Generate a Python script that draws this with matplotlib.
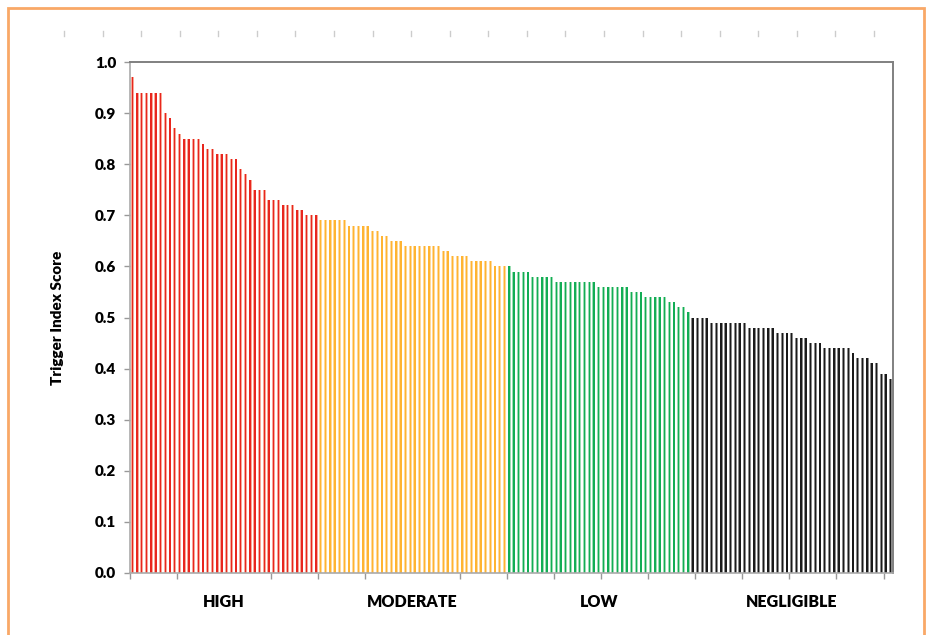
import numpy as np
import matplotlib
matplotlib.use('Agg')
import matplotlib.pyplot as plt
import matplotlib.patches as patches
from matplotlib.lines import Line2D

plt.rcParams['font.family'] = ['Lato', 'DejaVu Sans']

# Scores, already sorted high to low, one list per risk class
high_scores = [0.97, 0.94, 0.94, 0.94, 0.94, 0.94, 0.94, 0.90, 0.89, 0.87,
               0.86, 0.85, 0.85, 0.85, 0.85, 0.84, 0.83, 0.83, 0.82, 0.82,
               0.82, 0.81, 0.81, 0.79, 0.78, 0.77, 0.75, 0.75, 0.75, 0.73,
               0.73, 0.73, 0.72, 0.72, 0.72, 0.71, 0.71, 0.70, 0.70, 0.70]
moderate_scores = [0.69, 0.69, 0.69, 0.69, 0.69, 0.69, 0.68, 0.68, 0.68, 0.68,
                   0.68, 0.67, 0.67, 0.66, 0.66, 0.65, 0.65, 0.65, 0.64, 0.64,
                   0.64, 0.64, 0.64, 0.64, 0.64, 0.64, 0.63, 0.63, 0.62, 0.62,
                   0.62, 0.62, 0.61, 0.61, 0.61, 0.61, 0.61, 0.60, 0.60, 0.60]
low_scores = [0.60, 0.59, 0.59, 0.59, 0.59, 0.58, 0.58, 0.58, 0.58, 0.58,
              0.57, 0.57, 0.57, 0.57, 0.57, 0.57, 0.57, 0.57, 0.57, 0.56,
              0.56, 0.56, 0.56, 0.56, 0.56, 0.56, 0.55, 0.55, 0.55, 0.54,
              0.54, 0.54, 0.54, 0.54, 0.53, 0.53, 0.52, 0.52, 0.51]
negligible_scores = [0.50, 0.50, 0.50, 0.50, 0.49, 0.49, 0.49, 0.49, 0.49, 0.49,
                     0.49, 0.49, 0.48, 0.48, 0.48, 0.48, 0.48, 0.48, 0.47, 0.47,
                     0.47, 0.47, 0.46, 0.46, 0.46, 0.45, 0.45, 0.45, 0.44, 0.44,
                     0.44, 0.44, 0.44, 0.44, 0.43, 0.42, 0.42, 0.42, 0.41, 0.41,
                     0.39, 0.39, 0.38]

groups = ['HIGH', 'MODERATE', 'LOW', 'NEGLIGIBLE']
group_scores = [high_scores, moderate_scores, low_scores, negligible_scores]
# (light edge, dark core) per group
group_colors = [('#F7A898', '#E8261E'),
                ('#FFD99A', '#FFB431'),
                ('#9ADDB2', '#12AD55'),
                ('#8A8A8A', '#1A1A1A')]

fig = plt.figure(figsize=(9.31, 6.35), dpi=100)
ax = fig.add_axes([130 / 931, 1 - 573 / 635, 763 / 931, 511 / 635])

start = 0
centers = []
for scores, (light, dark) in zip(group_scores, group_colors):
    x = np.arange(start, start + len(scores))
    ax.bar(x, scores, width=0.62, color=light, linewidth=0)
    ax.bar(x, scores, width=0.3, color=dark, linewidth=0)
    centers.append(start + (len(scores) - 1) / 2)
    start += len(scores)

n_total = start
ax.set_xlim(-0.5, n_total - 0.5)
ax.set_ylim(0, 1.0)

ax.set_yticks(np.arange(0, 1.01, 0.1))
ax.set_yticklabels([f'{v:.1f}' for v in np.arange(0, 1.01, 0.1)],
                   fontsize=11, fontweight='heavy')
ax.set_ylabel('Trigger Index Score', fontsize=11, fontweight='heavy', labelpad=22)

ax.set_xticks(centers)
ax.set_xticklabels(groups, fontsize=11.5, fontweight='heavy')
ax.set_xticks(np.arange(-0.5, n_total, 10), minor=True)
ax.tick_params(axis='x', which='major', length=0, pad=15)
ax.tick_params(axis='x', which='minor', length=4, color='#999999', width=1)
ax.tick_params(axis='y', length=4, color='#999999', width=1, pad=6)

for side in ['left', 'bottom']:
    ax.spines[side].set_color('#AAAAAA')
    ax.spines[side].set_linewidth(1.2)
for side in ['top', 'right']:
    ax.spines[side].set_color('#808080')
    ax.spines[side].set_linewidth(1.4)

# orange outer frame
fig.add_artist(patches.Rectangle((8 / 931, -0.02), 916 / 931, 1 - 8 / 635 + 0.02,
                                 transform=fig.transFigure, fill=False,
                                 edgecolor='#F9A867', linewidth=2))

# faint ruler marks along the top
for px in np.linspace(64, 874, 22):
    fig.add_artist(Line2D([px / 931, px / 931], [1 - 31 / 635, 1 - 36 / 635],
                          transform=fig.transFigure, color='#CCCCCC', linewidth=1))

fig.savefig('out.png', dpi=100)
